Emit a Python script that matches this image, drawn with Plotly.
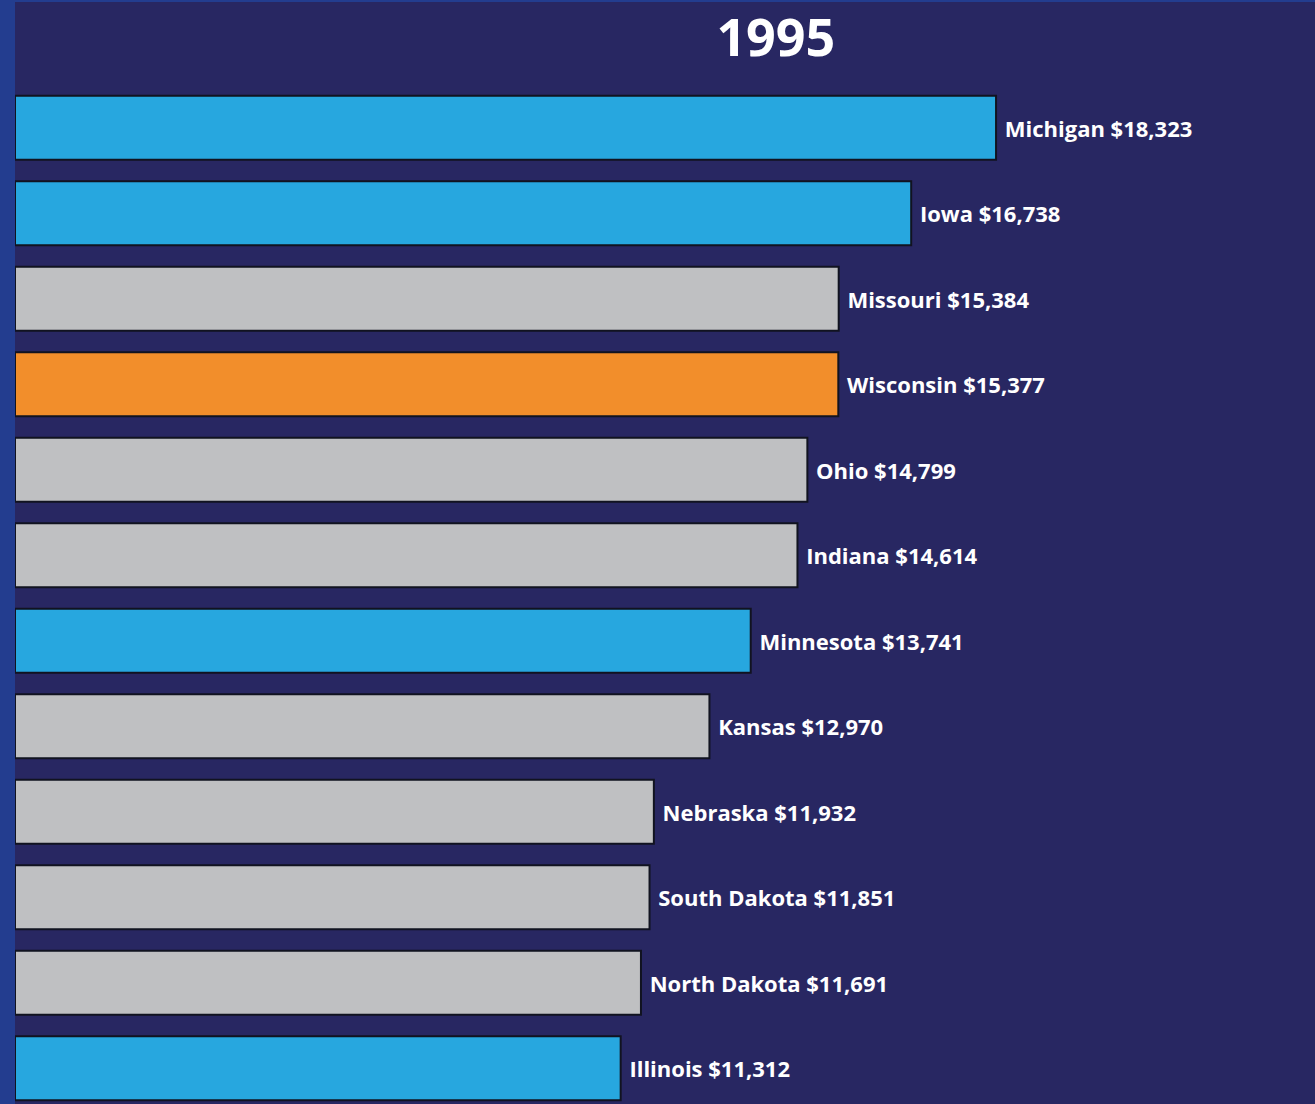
import plotly.graph_objects as go

year = "1995"
states = ["Michigan", "Iowa", "Missouri", "Wisconsin", "Ohio", "Indiana",
          "Minnesota", "Kansas", "Nebraska", "South Dakota", "North Dakota", "Illinois"]
values = [18323, 16738, 15384, 15377, 14799, 14614, 13741, 12970, 11932, 11851, 11691, 11312]
groups = ["blue", "blue", "gray", "orange", "gray", "gray",
          "blue", "gray", "gray", "gray", "gray", "blue"]

palette = {"blue": "#27a7df", "gray": "#bfc0c2", "orange": "#f28e2b"}
bg = "#282762"

# nbsp in front to push the label a bit away from the bar end
labels = [f"\u00a0{s} ${v:,}" for s, v in zip(states, values)]

fig = go.Figure(go.Bar(
    x=values,
    y=states,
    orientation="h",
    width=0.75,
    marker=dict(color=[palette[g] for g in groups], line=dict(color="#111320", width=2)),
    text=labels,
    textposition="outside",
    cliponaxis=False,
    textfont=dict(family="Open Sans", size=22, color="white", weight="bold"),
    hoverinfo="skip",
))

fig.update_layout(
    width=1315,
    height=1104,
    margin=dict(l=15, r=0, t=85, b=0),
    paper_bgcolor=bg,
    plot_bgcolor=bg,
    showlegend=False,
    title=dict(text=year, x=0.59, xanchor="center", y=0.966, yanchor="middle",
               font=dict(family="Open Sans", size=52, color="white", weight="bold")),
    xaxis=dict(range=[0, 24280], visible=False, fixedrange=True),
    yaxis=dict(categoryorder="array", categoryarray=states, range=[11.418, -0.5],
               visible=False, fixedrange=True),
    shapes=[
        dict(type="rect", xref="paper", yref="paper", x0=-15 / 1300, x1=0,
             y0=0, y1=1 + 85 / 1019, fillcolor="#233d8f", line_width=0, layer="below"),
        dict(type="line", xref="paper", yref="paper", x0=-15 / 1300, x1=1,
             y0=1 + 84 / 1019, y1=1 + 84 / 1019, line=dict(color="#233d8f", width=2)),
    ],
)

fig.write_html(
    "out.html",
    config={"displayModeBar": False},
    post_script="document.body.style.margin='0';document.body.style.overflow='hidden';",
)
